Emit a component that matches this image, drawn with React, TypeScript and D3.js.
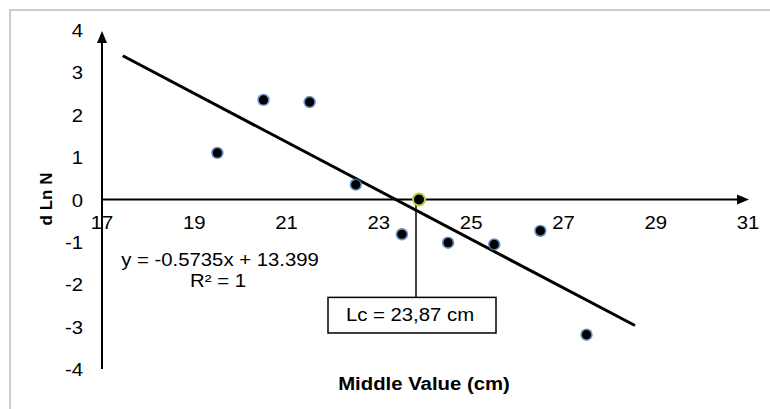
import React from 'react';
import * as d3 from 'd3';

// Data
const middleValues = [19.5, 20.5, 21.5, 22.5, 23.5, 24.5, 25.5, 26.5, 27.5];
const dLnN = [1.1, 2.35, 2.3, 0.35, -0.82, -1.02, -1.06, -0.74, -3.19];
const xTicks = [17, 19, 21, 23, 25, 27, 29, 31];
const yTicks = [4, 3, 2, 1, 0, -1, -2, -3, -4];
const slope = -0.5735;
const intercept = 13.399;
const trendRange = [17.45, 28.55];
const lcValue = 23.87;

const FONT = '"Liberation Sans", Arial, sans-serif';
const STRETCH = 1.13;

// text a bit wider than the font, like the original picture
const Txt = ({ x, y, anchor = 'start', size = 18, bold = false, children }: any) => (
  <text
    transform={`translate(${x},${y}) scale(${STRETCH},1)`}
    textAnchor={anchor}
    fontFamily={FONT}
    fontSize={size}
    fontWeight={bold ? 'bold' : 'normal'}
    fill="#000"
  >
    {children}
  </text>
);

const App = () => {
  const width = 770;
  const height = 409;

  const x = d3.scaleLinear().domain([17, 31]).range([102, 748]);
  const y = d3.scaleLinear().domain([-4, 4]).range([369, 30]);

  const trend = d3.line<number>()
    .x(d => x(d))
    .y(d => y(slope * d + intercept));

  const x0 = x(17);
  const y0 = y(0);
  const boxTop = y(-2.31);
  const boxBottom = y(-3.15);

  return (
    <svg width={width} height={height} style={{ position: 'absolute', left: 0, top: 0 }}>
      <rect x={0} y={0} width={width} height={height} fill="#fff" />
      {/* outer frame */}
      <rect x={10} y={10} width={780} height={420} fill="none" stroke="#bdbdbd" strokeWidth={1.5} />

      {/* axes */}
      <line x1={x0} y1={y(-4)} x2={x0} y2={y(4) + 10} stroke="#000" strokeWidth={2} />
      <path d={`M${x0},${y(4) + 1} L${x0 - 5},${y(4) + 13} L${x0 + 5},${y(4) + 13} Z`} fill="#000" />
      <line x1={x0} y1={y0} x2={x(31) - 10} y2={y0} stroke="#000" strokeWidth={2} />
      <path d={`M${x(31) + 1},${y0} L${x(31) - 11},${y0 - 5} L${x(31) - 11},${y0 + 5} Z`} fill="#000" />

      {/* tick labels */}
      {yTicks.map(t => (
        <Txt key={'y' + t} x={83} y={y(t) + 7} anchor="end">{t}</Txt>
      ))}
      {xTicks.map(t => (
        <Txt key={'x' + t} x={x(t)} y={y0 + 29} anchor="middle">{t}</Txt>
      ))}

      {/* trend line */}
      <path d={trend(trendRange) || ''} fill="none" stroke="#000" strokeWidth={3} />

      {/* Lc marker line and box */}
      <line x1={x(lcValue) - 3} y1={y0} x2={x(lcValue) - 3} y2={boxTop} stroke="#000" strokeWidth={1.5} />
      <rect x={328} y={boxTop} width={168} height={boxBottom - boxTop} fill="#fff" stroke="#000" strokeWidth={1.5} />
      <Txt x={410} y={(boxTop + boxBottom) / 2 + 6} anchor="middle">Lc = 23,87 cm</Txt>

      {/* points */}
      {middleValues.map((v, i) => (
        <g key={'p' + i}>
          <circle cx={x(v)} cy={y(dLnN[i])} r={6.2} fill="#3f74bd" opacity={0.8} />
          <circle cx={x(v)} cy={y(dLnN[i])} r={4.6} fill="#000" />
        </g>
      ))}
      <circle cx={x(lcValue)} cy={y0} r={7} fill="#b5d145" />
      <circle cx={x(lcValue)} cy={y0} r={5} fill="#000" />

      {/* equation */}
      <Txt x={220} y={266} anchor="middle">y = -0.5735x + 13.399</Txt>
      <Txt x={218} y={287} anchor="middle">R² = 1</Txt>

      {/* axis titles */}
      <Txt x={424} y={390} anchor="middle" bold>Middle Value (cm)</Txt>
      <text
        transform={`translate(52,199) rotate(-90)`}
        textAnchor="middle"
        fontFamily={FONT}
        fontSize={17}
        fontWeight="bold"
      >
        d Ln N
      </text>
    </svg>
  );
};

export default App;
